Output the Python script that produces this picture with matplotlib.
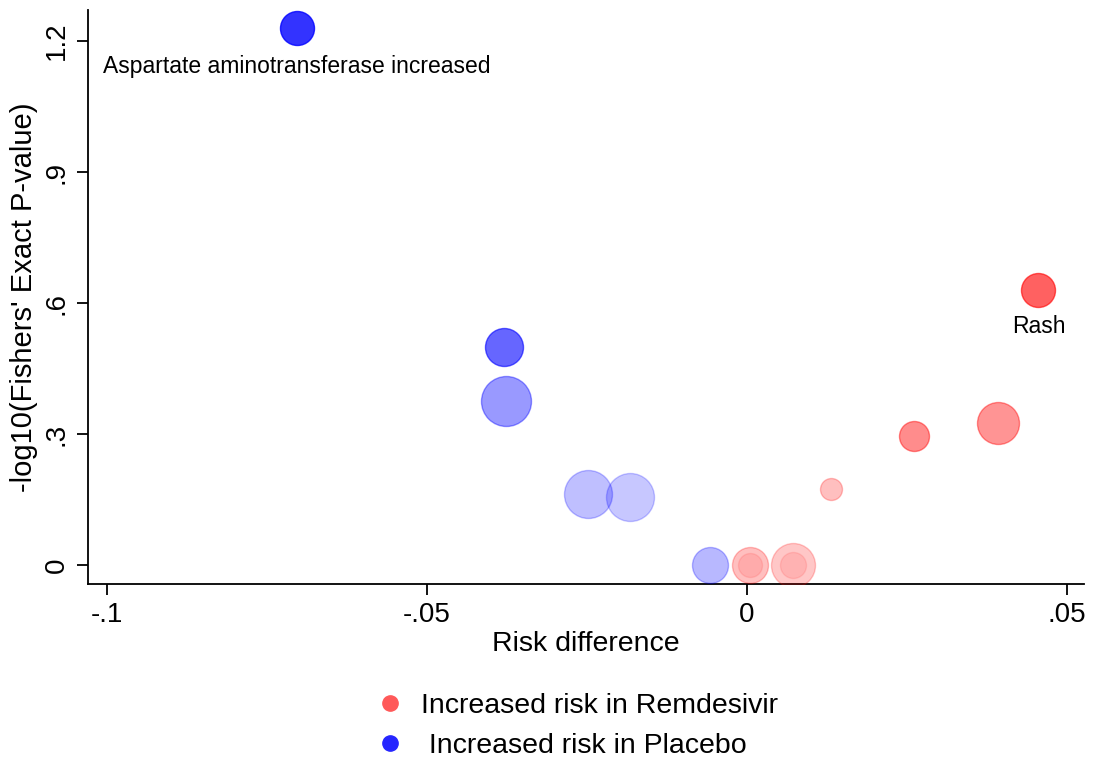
import numpy as np
import matplotlib
matplotlib.use("Agg")
import matplotlib.pyplot as plt
from matplotlib.lines import Line2D

plt.rcParams['font.family'] = ['Liberation Sans', 'DejaVu Sans']

# risk difference, -log10(p), bubble weight, group (1 = remdesivir, 0 = placebo)
risk_diff = [-0.0703, -0.0380, -0.0377, -0.0248, -0.0183, -0.0058,
             0.0005, 0.0005, 0.0072, 0.0072, 0.0131, 0.0261, 0.0392, 0.0456]
neglogp = [1.23, 0.50, 0.376, 0.163, 0.156, 0.0,
           0.0, 0.0, 0.0, 0.0, 0.174, 0.295, 0.325, 0.63]
weight = [17, 19, 25, 24, 24, 18, 18, 12, 22, 13, 11, 15, 21, 17]
group = [0, 0, 0, 0, 0, 0, 1, 1, 1, 1, 1, 1, 1, 1]
alpha = [0.8, 0.6, 0.4, 0.25, 0.22, 0.28, 0.25, 0.1, 0.22, 0.1, 0.25, 0.45, 0.42, 0.62]

labels = {0: ("Aspartate aminotransferase increased", -28), 13: ("Rash", -26.5)}

fig = plt.figure(figsize=(10.95, 7.62), dpi=100)
ax = fig.add_axes([0.0804, 0.2336, 0.91, 0.753])

px = 100 / 72
for x, y, w, g, a in zip(risk_diff, neglogp, weight, group, alpha):
    base = (1, 0, 0) if g == 1 else (0, 0, 1)
    s = (2 * w / px) ** 2
    ax.scatter(x, y, s=s, color=base, alpha=a, edgecolors=base, linewidths=1.0, zorder=3)

for i, (txt, dy) in labels.items():
    ax.annotate(txt, (risk_diff[i], neglogp[i]), xytext=(0, dy), textcoords='offset points',
                ha='center', va='center', fontsize=16.5)

ax.set_xlim(-0.103, 0.0528)
ax.set_ylim(-0.0435, 1.271)
ax.set_xticks([-0.1, -0.05, 0, 0.05])
ax.set_xticklabels(['-.1', '-.05', '0', '.05'])
ax.set_yticks([0, 0.3, 0.6, 0.9, 1.2])
ax.set_yticklabels(['0', '.3', '.6', '.9', '1.2'], rotation=90, va='center')
ax.spines['top'].set_visible(False)
ax.spines['right'].set_visible(False)
for sp in ['left', 'bottom']:
    ax.spines[sp].set_linewidth(1.3)
ax.tick_params(direction='out', length=8, width=1.3, labelsize=20, pad=5)
ax.set_xlabel('Risk difference', fontsize=20.5, labelpad=2)
ax.set_ylabel("-log10(Fishers' Exact P-value)", fontsize=21, labelpad=4)

handles = [Line2D([], [], marker='o', ls='', color=(1, 0.35, 0.35), markersize=11),
           Line2D([], [], marker='o', ls='', color=(0.15, 0.15, 1), markersize=11)]
fig.legend(handles, ['Increased risk in Remdesivir', ' Increased risk in Placebo'],
           loc='center', bbox_to_anchor=(0.527, 0.047), frameon=False, fontsize=20.5,
           handlelength=1.0, handletextpad=0.6, labelspacing=0.48)

fig.savefig('out.png', dpi=100)
